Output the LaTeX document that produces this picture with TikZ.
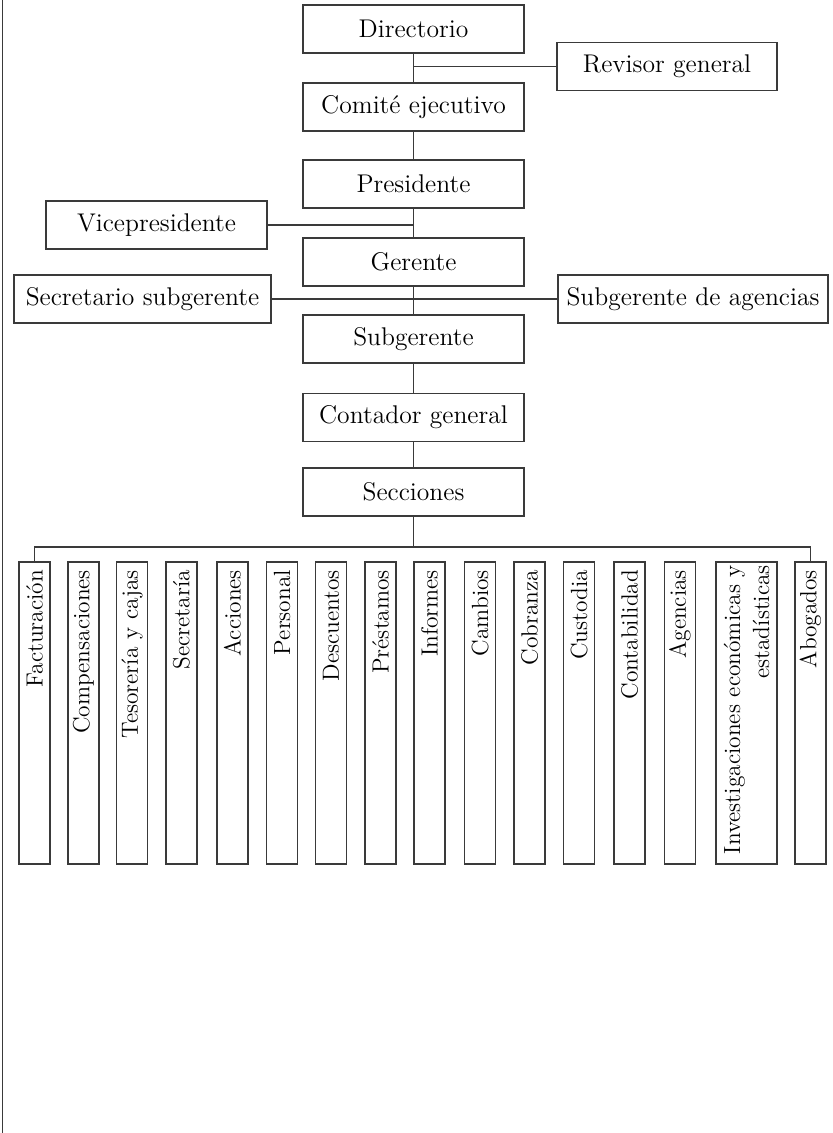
\documentclass[tikz,border=0pt]{standalone}
\usepackage{fontspec}
\usepackage{tikz}
\definecolor{linea}{HTML}{3A3A3A}
\tikzset{
  cargo/.style={
    draw=linea,
    line width=0.55pt,
    minimum width=110.5pt,
    minimum height=24pt,
    inner sep=2pt,
    font=\fontsize{12.8}{15}\selectfont
  },
  seccion/.style={
    draw=linea,
    line width=0.55pt,
    rotate=90,
    minimum height=15.5pt,
    text width=143pt,
    align=right,
    inner xsep=4pt,
    inner ysep=1pt,
    font=\fontsize{11.7}{14.5}\selectfont
  },
  enlace/.style={draw=linea, line width=0.55pt}
}

\begin{document}
\begin{tikzpicture}[x=0.5pt, y=-0.5pt]
  \useasboundingbox (0,0) rectangle (833,1133);
  \draw[enlace] (2.5,0) -- (2.5,1133);

  % Linea central
  \node[cargo] (dir) at (413.5,29) {Directorio};
  \node[cargo] (com) at (413.5,107) {Comité ejecutivo};
  \node[cargo] (pres) at (413.5,184) {Presidente};
  \node[cargo] (ger) at (413.5,262) {Gerente};
  \node[cargo] (subg) at (413.5,339) {Subgerente};
  \node[cargo] (cont) at (413.5,417.5) {Contador general};
  \node[cargo] (secc) at (413.5,492) {Secciones};
  \draw[enlace] (dir) -- (com);
  \draw[enlace] (com) -- (pres);
  \draw[enlace] (pres) -- (ger);
  \draw[enlace] (ger) -- (subg);
  \draw[enlace] (subg) -- (cont);
  \draw[enlace] (cont) -- (secc);

  % Cargos laterales
  \node[cargo, minimum width=110pt] (rev) at (667,66.5) {Revisor general};
  \node[cargo] (vice) at (156.5,225) {Vicepresidente};
  \node[cargo, minimum width=128.5pt] (secsub) at (142.5,299) {Secretario subgerente};
  \node[cargo, minimum width=135pt] (subag) at (693,299) {Subgerente de agencias};
  \draw[enlace] (rev.west) -- (rev.west -| dir.south);
  \draw[enlace] (vice.east) -- (vice.east -| pres.south);
  \draw[enlace] (secsub) -- (subag);

  % Secciones
  \node[seccion] (s1) at (34.5,713) {Facturación};
  \node[seccion] (s2) at (83.5,713) {Compensaciones};
  \node[seccion] (s3) at (132,713) {Tesorería y cajas};
  \node[seccion] (s4) at (181.5,713) {Secretaría};
  \node[seccion] (s5) at (232.5,713) {Acciones};
  \node[seccion] (s6) at (282,713) {Personal};
  \node[seccion] (s7) at (331,713) {Descuentos};
  \node[seccion] (s8) at (380.5,713) {Préstamos};
  \node[seccion] (s9) at (429.5,713) {Informes};
  \node[seccion] (s10) at (480,713) {Cambios};
  \node[seccion] (s11) at (529.5,713) {Cobranza};
  \node[seccion] (s12) at (579,713) {Custodia};
  \node[seccion] (s13) at (629.5,713) {Contabilidad};
  \node[seccion] (s14) at (680,713) {Agencias};
  \node[seccion, minimum height=30.5pt, text width=148pt, inner xsep=1.5pt] (s15) at (746.5,713) {Investigaciones económicas y\\estadísticas};
  \node[seccion] (s16) at (810.5,713) {Abogados};

  \coordinate (bus) at (413.5,547);
  \draw[enlace] (secc) -- (bus);
  \draw[enlace] (s1.east) |- (bus) -| (s16.east);
\end{tikzpicture}
\end{document}
